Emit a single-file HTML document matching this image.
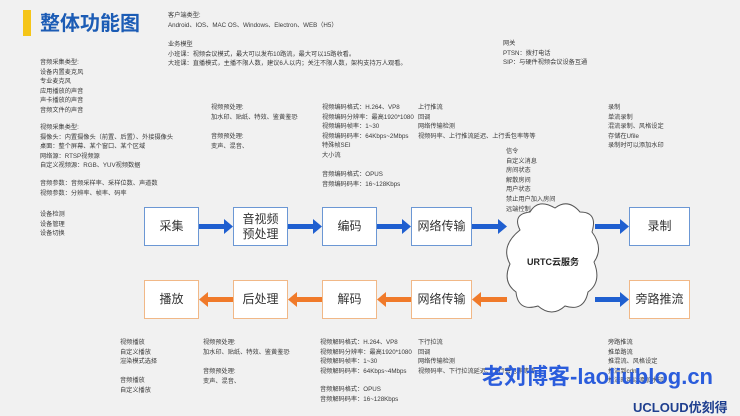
<!DOCTYPE html>
<html><head><meta charset="utf-8"><style>
body{margin:0;width:740px;height:416px;background:#f1f1f1;position:relative;overflow:hidden;font-family:"Liberation Sans","Noto Sans CJK SC",sans-serif;color:#333}
.t{position:absolute;font-size:6.2px;line-height:9.6px;white-space:nowrap;color:#3a3a3a}
.b{position:absolute;box-sizing:border-box;background:#fff;display:flex;align-items:center;justify-content:center;text-align:center;font-size:12px;line-height:15px;color:#333}
.bl{border:1.5px solid #6b97d4}
.or{border:1.5px solid #f1b887}
svg{position:absolute;left:0;top:0}
</style></head><body>
<div style="position:absolute;left:23px;top:10px;width:8px;height:26px;background:#f5c518"></div>
<div style="position:absolute;left:40px;top:10px;font-size:20px;font-weight:bold;color:#1c5cb5;line-height:28px">整体功能图</div>

<div class="t" style="left:168px;top:11px">客户端类型:<br>Android、IOS、MAC OS、Windows、Electron、WEB（H5）</div>
<div class="t" style="left:168px;top:40px">业务模型<br>小班课：视频会议模式，最大可以发布10路流，最大可以15路收看。<br>大班课：直播模式，主播不限人数，建议6人以内；关注不限人数，架构支持万人观看。</div>
<div class="t" style="left:503px;top:39px">网关<br>PTSN：拨打电话<br>SIP：与硬件视频会议设备互通</div>

<div class="t" style="left:40px;top:58px">音频采集类型:<br>设备内置麦克风<br>专业麦克风<br>应用播放的声音<br>声卡播放的声音<br>音频文件的声音</div>
<div class="t" style="left:40px;top:123px">视频采集类型:<br>摄像头：内置摄像头（前置、后置）、外接摄像头<br>桌面：整个屏幕、某个窗口、某个区域<br>网络源：RTSP视频源<br>自定义视频源：RGB、YUV视频数据</div>
<div class="t" style="left:40px;top:179px">音频参数：音频采样率、采样位数、声道数<br>视频参数：分辨率、帧率、码率</div>
<div class="t" style="left:40px;top:210px">设备检测<br>设备管理<br>设备切换</div>

<div class="t" style="left:211px;top:103px">视频预处理:<br>加水印、贴纸、特效、鉴黄鉴恐</div>
<div class="t" style="left:211px;top:132px">音频预处理:<br>变声、混音、</div>
<div class="t" style="left:322px;top:103px">视频编码格式：H.264、VP8<br>视频编码分辨率：最高1920*1080<br>视频编码帧率：1~30<br>视频编码码率：64Kbps~2Mbps<br>特殊帧SEI<br>大小流</div>
<div class="t" style="left:322px;top:170px">音频编码格式：OPUS<br>音频编码码率：16~128Kbps</div>
<div class="t" style="left:418px;top:103px">上行推流<br>回调<br>网络传输检测<br>视频码率、上行推流延迟、上行丢包率等等</div>
<div class="t" style="left:506px;top:147px">信令<br>自定义消息<br>房间状态<br>解散房间<br>用户状态<br>禁止用户加入房间<br>远端控制</div>
<div class="t" style="left:608px;top:103px">录制<br>单流录制<br>混流录制、风格设定<br>存储在Ufile<br>录制时可以添加水印</div>

<div class="t" style="left:120px;top:338px">视频播放<br>自定义播放<br>渲染模式选择</div>
<div class="t" style="left:120px;top:376px">音频播放<br>自定义播放</div>
<div class="t" style="left:203px;top:338px">视频预处理:<br>加水印、贴纸、特效、鉴黄鉴恐</div>
<div class="t" style="left:203px;top:367px">音频预处理:<br>变声、混音、</div>
<div class="t" style="left:320px;top:338px">视频解码格式：H.264、VP8<br>视频解码分辨率：最高1920*1080<br>视频解码帧率：1~30<br>视频解码码率：64Kbps~4Mbps</div>
<div class="t" style="left:320px;top:385px">音频解码格式：OPUS<br>音频解码码率：16~128Kbps</div>
<div class="t" style="left:418px;top:338px">下行拉流<br>回调<br>网络传输检测<br>视频码率、下行拉流延迟、下行丢包率等等</div>
<div class="t" style="left:608px;top:338px">旁路推流<br>推单路流<br>推混流、风格设定<br>推流到cdn<br>推流时可以添加水印</div>

<div class="b bl" style="left:144px;top:207px;width:55px;height:39px">采集</div>
<div class="b bl" style="left:233px;top:207px;width:55px;height:39px">音视频<br>预处理</div>
<div class="b bl" style="left:322px;top:207px;width:55px;height:39px">编码</div>
<div class="b bl" style="left:411px;top:207px;width:61px;height:39px">网络传输</div>
<div class="b bl" style="left:629px;top:207px;width:61px;height:39px">录制</div>
<div class="b or" style="left:144px;top:280px;width:55px;height:39px">播放</div>
<div class="b or" style="left:233px;top:280px;width:55px;height:39px">后处理</div>
<div class="b or" style="left:322px;top:280px;width:55px;height:39px">解码</div>
<div class="b or" style="left:411px;top:280px;width:61px;height:39px">网络传输</div>
<div class="b or" style="left:629px;top:280px;width:61px;height:39px">旁路推流</div>

<svg width="740" height="416">
<g fill="#1f5fd0">
<rect x="199" y="224" width="26" height="5"/><polygon points="224,219 233,226.5 224,234"/>
<rect x="288" y="224" width="26" height="5"/><polygon points="313,219 322,226.5 313,234"/>
<rect x="377" y="224" width="26" height="5"/><polygon points="402,219 411,226.5 402,234"/>
<rect x="472" y="224" width="27" height="5"/><polygon points="498,219 507,226.5 498,234"/>
<rect x="595" y="224" width="26" height="5"/><polygon points="620,219 629,226.5 620,234"/>
<rect x="595" y="297" width="26" height="5"/><polygon points="620,292 629,299.5 620,307"/>
</g>
<g fill="#f07a2a">
<rect x="207" y="297" width="26" height="5"/><polygon points="208,292 199,299.5 208,307"/>
<rect x="296" y="297" width="26" height="5"/><polygon points="297,292 288,299.5 297,307"/>
<rect x="385" y="297" width="26" height="5"/><polygon points="386,292 377,299.5 386,307"/>
<rect x="480" y="297" width="27" height="5"/><polygon points="481,292 472,299.5 481,307"/>
</g>
<path d="M520,230 Q512,214 530,212 Q538,198 555,208 Q568,198 580,212 Q598,212 592,232 Q604,248 594,262 Q602,282 588,292 Q584,312 565,306 Q552,318 538,306 Q518,312 516,292 Q502,282 510,264 Q500,246 520,230 Z" fill="#fff" stroke="#555" stroke-width="1"/>
<text x="553" y="265" text-anchor="middle" font-family="Liberation Sans,Noto Sans CJK SC,sans-serif" font-size="9" font-weight="bold" fill="#222">URTC云服务</text>
</svg>

<div style="position:absolute;left:482px;top:362px;font-size:22px;font-weight:bold;color:#2a5cdc;line-height:30px;white-space:nowrap">老刘博客-laoliublog.cn</div>
<div style="position:absolute;left:633px;top:399px;font-size:13px;font-weight:bold;color:#1f3f8f;line-height:17px;white-space:nowrap">UCLOUD优刻得</div>
</body></html>
